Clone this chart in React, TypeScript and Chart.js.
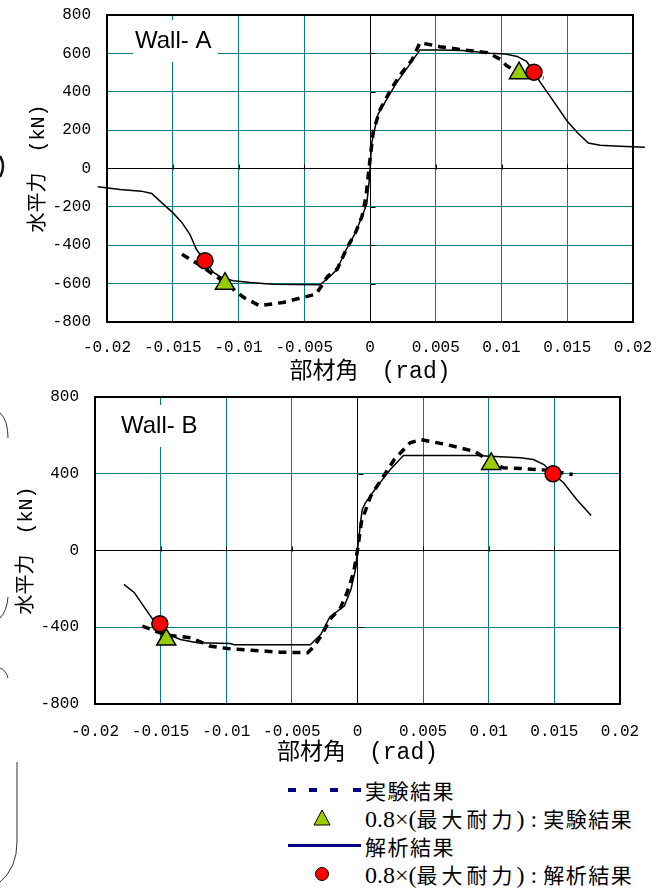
import React, { useEffect, useRef } from "react";
import { Chart, registerables } from "chart.js";

Chart.register(...registerables);

// ---------- Data ----------
const X_TICKS = [-0.02, -0.015, -0.01, -0.005, 0, 0.005, 0.01, 0.015, 0.02];
const A_Y_TICKS = [-800, -600, -400, -200, 0, 200, 400, 600, 800];
const B_Y_TICKS = [-800, -400, 0, 400, 800];

// Wall-A : analysis (solid)
const A_ANA_X = [-0.0207, -0.019, -0.0174, -0.0166, -0.0157, -0.015, -0.0143, -0.0137, -0.0132, -0.0126, -0.0119, -0.0113, -0.0104, -0.0091, -0.0074, -0.0038, -0.003, -0.0025, -0.0018, -0.0011, -0.0006, -0.00025, -0.00005, 0, 0.00013, 0.0004, 0.0006, 0.0011, 0.002, 0.003, 0.0038, 0.0051, 0.0071, 0.0091, 0.0103, 0.0112, 0.0119, 0.0125, 0.0129, 0.0137, 0.015, 0.0158, 0.0166, 0.0175, 0.019, 0.0209];
const A_ANA_Y = [-95, -109, -118, -130, -187, -230, -282, -343, -421, -481, -542, -568, -585, -594, -603, -606, -560, -525, -421, -334, -248, -187, -57, -5, 133, 220, 281, 341, 445, 540, 618, 618, 615, 601, 597, 584, 558, 502, 454, 376, 246, 185, 133, 121, 116, 111];
// Wall-A : experiment (dashed)
const A_EXP_X = [-0.0143, -0.0129, -0.0114, -0.0096, -0.0084, -0.0066, -0.0051, -0.0041, -0.0032, -0.0025, -0.0018, -0.0011, -0.0006, -0.0003, 0, 0.00025, 0.00076, 0.00165, 0.0024, 0.0032, 0.0038, 0.0053, 0.0071, 0.0089, 0.0099, 0.0104, 0.0113, 0.0132];
const A_EXP_Y = [-447, -505, -577, -672, -715, -698, -672, -655, -560, -525, -421, -334, -248, -144, 47, 194, 306, 419, 497, 566, 656, 635, 618, 604, 570, 535, 500, 471];
// Wall-A : 0.8 x max strength
const A_TRI_X = [0.01133, -0.01103];
const A_TRI_Y = [497, -600];
const A_CIR_X = [0.01247, -0.01255];
const A_CIR_Y = [502, -481];

// Wall-B : analysis (solid)
const B_ANA_X = [-0.0178, -0.017, -0.0163, -0.0155, -0.0151, -0.0144, -0.0135, -0.0122, -0.0097, -0.0094, -0.0036, -0.0028, -0.0021, -0.001, -0.0005, -0.00015, 0, 0.00023, 0.00036, 0.0006, 0.0015, 0.0025, 0.0035, 0.0091, 0.0101, 0.0124, 0.0134, 0.0142, 0.0149, 0.0157, 0.0167, 0.0178];
const B_ANA_Y = [-177, -220, -290, -368, -382, -438, -464, -481, -485, -491, -491, -438, -345, -290, -203, -99, 0, 144, 214, 248, 335, 422, 495, 495, 491, 483, 474, 448, 400, 353, 266, 182];
// Wall-B : experiment (dashed)
const B_EXP_X = [-0.0164, -0.0146, -0.0127, -0.0112, -0.0099, -0.0082, -0.0059, -0.0038, -0.0033, -0.0027, -0.0021, -0.0013, -0.0008, -0.0003, 0, 0.0003, 0.001, 0.0028, 0.004, 0.0048, 0.0068, 0.0089, 0.0099, 0.0111, 0.0128, 0.0145, 0.0164];
const B_EXP_Y = [-394, -440, -455, -499, -511, -519, -530, -533, -499, -438, -359, -299, -220, -116, 0, 150, 283, 474, 561, 578, 552, 517, 474, 431, 426, 418, 396];
const B_TRI_X = [0.01018, -0.01457];
const B_TRI_Y = [451, -464];
const B_CIR_X = [0.0149, -0.01506];
const B_CIR_Y = [400, -382];

const X_TITLE = "部材角　(rad)";
const Y_TITLE = "水平力　(kN)";

// ---------- Styles ----------
const TEAL = "#008080";
const MONO = '"Liberation Mono", "Noto Sans CJK JP", monospace';
const CJK = '"Noto Sans CJK JP", sans-serif';
const SERIF = '"Liberation Serif", serif';

const zip = (xs: number[], ys: number[]) => xs.map((x, i) => ({ x, y: ys[i] }));
const fmt = (v: number) => String(Number(Number(v).toFixed(4)));

const framePlugin = {
  id: "frame",
  beforeDatasetsDraw(chart: any, _args: any, opts: any) {
    const { ctx, chartArea: a, scales } = chart;
    const xs = scales.x;
    const ys = scales.y;
    ctx.save();
    // little tick marks on the zero axes
    const y0 = Math.round(ys.getPixelForValue(0)) + 0.5;
    const x0 = Math.round(xs.getPixelForValue(0)) + 0.5;
    ctx.strokeStyle = "#000";
    ctx.lineWidth = 1;
    ctx.beginPath();
    xs.ticks.forEach((t: any) => {
      if (t.value > xs.min && t.value < xs.max && Math.abs(t.value) > 1e-9) {
        const px = Math.round(xs.getPixelForValue(t.value)) + 0.5;
        ctx.moveTo(px, y0);
        ctx.lineTo(px, y0 - 5);
      }
    });
    ys.ticks.forEach((t: any) => {
      if (t.value > ys.min && t.value < ys.max && Math.abs(t.value) > 1e-9) {
        const py = Math.round(ys.getPixelForValue(t.value)) + 0.5;
        ctx.moveTo(x0, py);
        ctx.lineTo(x0 + 5, py);
      }
    });
    ctx.stroke();
    // wall label with white box
    ctx.fillStyle = "#fff";
    ctx.fillRect(a.left + opts.bx, a.top + opts.by, opts.bw, opts.bh);
    ctx.fillStyle = "#000";
    ctx.font = '24px "Liberation Sans", Arial, sans-serif';
    ctx.textAlign = "left";
    ctx.textBaseline = "middle";
    ctx.fillText(opts.text, a.left + opts.tx, a.top + opts.ty);
    // plot frame
    ctx.lineWidth = 2;
    ctx.strokeRect(a.left, a.top, a.right - a.left, a.bottom - a.top);
    ctx.restore();
  },
};

type Cfg = {
  top: number;
  height: number;
  padTop: number;
  padRight: number;
  yWidth: number;
  yTicks: number[];
  xTickPad: number;
  yTickPad: number;
  xTitlePad: number;
  yTitlePad: number;
  label: any;
  ana: { x: number; y: number }[];
  exp: { x: number; y: number }[];
  tri: { x: number; y: number }[];
  cir: { x: number; y: number }[];
};

function WallChart({ cfg }: { cfg: Cfg }) {
  const ref = useRef<HTMLCanvasElement>(null);
  useEffect(() => {
    const gridColor = (c: any) =>
      c.tick && Math.abs(c.tick.value) < 1e-9 ? "#000" : TEAL;
    const chart = new Chart(ref.current as HTMLCanvasElement, {
      type: "scatter",
      data: {
        datasets: [
          {
            label: "cir",
            data: cfg.cir,
            pointStyle: "circle",
            pointRadius: 8,
            pointBackgroundColor: "#ff0000",
            pointBorderColor: "#000",
            pointBorderWidth: 1.5,
            showLine: false,
          },
          {
            label: "tri",
            data: cfg.tri,
            pointStyle: "triangle",
            pointRadius: 11,
            pointBackgroundColor: "#99cc00",
            pointBorderColor: "#000",
            pointBorderWidth: 1.5,
            showLine: false,
          },
          {
            label: "exp",
            data: cfg.exp,
            showLine: true,
            borderColor: "#000",
            borderWidth: 3.5,
            borderDash: [8, 6],
            pointRadius: 0,
            clip: false,
          },
          {
            label: "ana",
            data: cfg.ana,
            showLine: true,
            borderColor: "#000",
            borderWidth: 1.5,
            pointRadius: 0,
            clip: false,
          },
        ] as any,
      },
      options: {
        responsive: false,
        animation: false,
        devicePixelRatio: 1,
        events: [],
        layout: { padding: { top: cfg.padTop, right: cfg.padRight, left: 0, bottom: 0 } },
        plugins: {
          legend: { display: false },
          tooltip: { enabled: false },
          frame: cfg.label,
        } as any,
        scales: {
          x: {
            type: "linear",
            min: -0.02,
            max: 0.02,
            afterBuildTicks: (s: any) => {
              s.ticks = X_TICKS.map((v) => ({ value: v }));
            },
            afterFit: (s: any) => {
              s.height = 64;
              s.paddingLeft = 0;
              s.paddingRight = 0;
            },
            grid: { color: gridColor, lineWidth: 1, drawTicks: false },
            border: { display: false },
            ticks: {
              color: "#000",
              padding: cfg.xTickPad,
              maxRotation: 0,
              autoSkip: false,
              font: { family: MONO, size: 16 },
              callback: (v: any) => fmt(v),
            },
            title: {
              display: true,
              text: X_TITLE,
              color: "#000",
              font: { family: MONO, size: 23, lineHeight: 1.2 },
              padding: { top: 0, bottom: cfg.xTitlePad },
            },
          },
          y: {
            type: "linear",
            min: -800,
            max: 800,
            afterBuildTicks: (s: any) => {
              s.ticks = cfg.yTicks.map((v) => ({ value: v }));
            },
            afterFit: (s: any) => {
              s.width = cfg.yWidth;
              s.paddingTop = 0;
              s.paddingBottom = 0;
            },
            grid: { color: gridColor, lineWidth: 1, drawTicks: false },
            border: { display: false },
            ticks: {
              color: "#000",
              padding: cfg.yTickPad,
              autoSkip: false,
              font: { family: MONO, size: 16 },
              callback: (v: any) => fmt(v),
            },
            title: {
              display: true,
              text: Y_TITLE,
              color: "#000",
              font: { family: MONO, size: 20, lineHeight: 1.2 },
              padding: { top: cfg.yTitlePad, bottom: 0 },
            },
          },
        },
      } as any,
      plugins: [framePlugin],
    });
    return () => chart.destroy();
  }, []);
  return (
    <canvas
      ref={ref}
      width={659}
      height={cfg.height}
      style={{ position: "absolute", left: 0, top: cfg.top, width: 659, height: cfg.height }}
    />
  );
}

const CFG_A: Cfg = {
  top: 0,
  height: 386,
  padTop: 15,
  padRight: 26,
  yWidth: 107,
  yTicks: A_Y_TICKS,
  xTickPad: 16,
  yTickPad: 16,
  xTitlePad: 0,
  yTitlePad: 27,
  label: { text: "Wall- A", bx: 26, by: 5, bw: 85, bh: 42, tx: 28, ty: 26 },
  ana: zip(A_ANA_X, A_ANA_Y),
  exp: zip(A_EXP_X, A_EXP_Y),
  tri: zip(A_TRI_X, A_TRI_Y),
  cir: zip(A_CIR_X, A_CIR_Y),
};

const CFG_B: Cfg = {
  top: 380,
  height: 388,
  padTop: 17,
  padRight: 39,
  yWidth: 95,
  yTicks: B_Y_TICKS,
  xTickPad: 18,
  yTickPad: 16,
  xTitlePad: 1,
  yTitlePad: 15,
  label: { text: "Wall- B", bx: 22, by: 8, bw: 84, bh: 42, tx: 26, ty: 29 },
  ana: zip(B_ANA_X, B_ANA_Y),
  exp: zip(B_EXP_X, B_EXP_Y),
  tri: zip(B_TRI_X, B_TRI_Y),
  cir: zip(B_CIR_X, B_CIR_Y),
};

// ---------- Legend ----------
const LEG_EXP = "実験結果";
const LEG_ANA = "解析結果";
const LEG_FACTOR = "0.8×(";
const LEG_MAX = "最大耐力";

function Sample({ kind }: { kind: string }) {
  const navy = "#000080";
  if (kind === "dash") {
    return (
      <div style={{ position: "relative", width: 74, height: 28 }}>
        {[1, 22, 43, 66].map((l) => (
          <div key={l} style={{ position: "absolute", left: l, top: 12, width: 8, height: 4, background: navy }} />
        ))}
      </div>
    );
  }
  if (kind === "line") {
    return (
      <div style={{ position: "relative", width: 74, height: 28 }}>
        <div style={{ position: "absolute", left: 1, top: 12, width: 73, height: 3, background: navy }} />
      </div>
    );
  }
  if (kind === "tri") {
    return (
      <svg width={74} height={28} style={{ display: "block" }}>
        <polygon points="35,6 43,21 27,21" fill="#99cc00" stroke="#000" strokeWidth={1} />
      </svg>
    );
  }
  return (
    <svg width={74} height={28} style={{ display: "block" }}>
      <circle cx={35} cy={14} r={6.5} fill="#ff0000" stroke="#000" strokeWidth={1} />
    </svg>
  );
}

function LegendRow({ kind, children, top }: { kind: string; children: any; top: number }) {
  return (
    <div
      style={{
        position: "absolute",
        left: 287,
        top,
        height: 28,
        display: "flex",
        alignItems: "center",
        whiteSpace: "nowrap",
      }}
    >
      <Sample kind={kind} />
      <div
        style={{
          marginLeft: 4,
          fontFamily: CJK,
          fontSize: 21,
          letterSpacing: 1.5,
          lineHeight: "28px",
          color: "#000",
        }}
      >
        {children}
      </div>
    </div>
  );
}

function Legend() {
  const serif = { fontFamily: SERIF, fontSize: 24, letterSpacing: 0 };
  const wide = { letterSpacing: 4 };
  return (
    <>
      <LegendRow kind="dash" top={776}>{LEG_EXP}</LegendRow>
      <LegendRow kind="tri" top={804}>
        <span style={serif}>{LEG_FACTOR}</span>
        <span style={wide}>{LEG_MAX}</span>
        <span style={serif}>) : </span>
        {LEG_EXP}
      </LegendRow>
      <LegendRow kind="line" top={832}>{LEG_ANA}</LegendRow>
      <LegendRow kind="cir" top={860}>
        <span style={serif}>{LEG_FACTOR}</span>
        <span style={wide}>{LEG_MAX}</span>
        <span style={serif}>) : </span>
        {LEG_ANA}
      </LegendRow>
    </>
  );
}

// decorative cropped frame fragments at the left edge
function EdgeMarks() {
  return (
    <svg width={24} height={888} style={{ position: "absolute", left: 0, top: 0 }}>
      <path d="M0,156 Q6,166 0,177" fill="none" stroke="#111" strokeWidth={2.5} />
      <path d="M0,413 Q8,420 8,438" fill="none" stroke="#333" strokeWidth={1} />
      <path d="M8,597 Q7,611 0,618" fill="none" stroke="#333" strokeWidth={1} />
      <path d="M0,668 Q6,670 8,678" fill="none" stroke="#333" strokeWidth={1} />
      <path d="M17,762 L17,842 Q17,868 0,882" fill="none" stroke="#333" strokeWidth={1} />
    </svg>
  );
}

export default function App() {
  return (
    <div style={{ position: "absolute", left: 0, top: 0, width: 659, height: 888, background: "#fff", overflow: "hidden" }}>
      <WallChart cfg={CFG_A} />
      <WallChart cfg={CFG_B} />
      <Legend />
      <EdgeMarks />
    </div>
  );
}
